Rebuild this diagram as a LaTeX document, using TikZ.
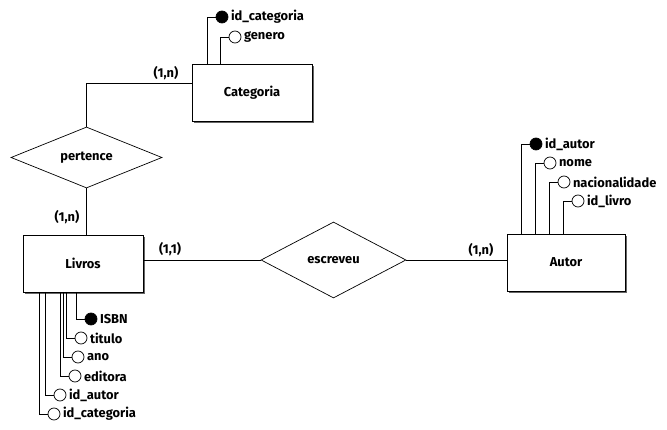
\documentclass[tikz,border=0pt]{standalone}
\usepackage{fontspec}
\setmainfont{Fira Sans}
\usepackage{tikz}
\usetikzlibrary{shapes.geometric, shadows, calc, positioning}
\tikzset{
    entity/.style={rectangle, draw, fill=white, inner sep=0pt,
        drop shadow={shadow xshift=1.3pt, shadow yshift=-1.3pt, fill=black!60, opacity=1},
        font=\bfseries\fontsize{11}{13}\selectfont},
    relation/.style={diamond, draw, fill=white, inner sep=0pt, aspect=2.4,
        font=\bfseries\fontsize{11}{13}\selectfont},
    attrib/.style={circle, draw, inner sep=0pt, minimum size=0.36cm},
    attrlabel/.style={anchor=west, inner sep=1pt, font=\bfseries\fontsize{11}{13}\selectfont},
    card/.style={inner sep=1pt, font=\bfseries\fontsize{11}{13}\selectfont}
}

\begin{document}
\begin{tikzpicture}[x=0.03cm, y=-0.03cm, line width=0.6pt]
    \useasboundingbox (0,0) rectangle (667,430);

    % entities and relations
    \node[entity, minimum width=3.6cm, minimum height=1.71cm] (categoria) at (252,92.5) {Categoria};
    \node[entity, minimum width=3.6cm, minimum height=1.71cm] (livros) at (83,263.5) {Livros};
    \node[entity, minimum width=3.54cm, minimum height=1.71cm] (autor) at (566,262.5) {Autor};
    \node[relation, minimum width=4.53cm, minimum height=1.83cm] (pertence) at (86.5,157.5) {pertence};
    \node[relation, minimum width=4.35cm, minimum height=2.28cm] (escreveu) at (333.5,260) {escreveu};

    % connections
    \draw ($(categoria.west)+(0,-9.5)$) -| (pertence.north);
    \draw (pertence.south) -- (pertence.south |- livros.north);
    \draw (livros.east |- escreveu.west) -- (escreveu.west);
    \draw (escreveu.east) -- (autor.west |- escreveu.east);

    % cardinalities
    \node[card] (c1) at (166,73) {(1,n)};
    \node[card] (c2) at (67,217) {(1,n)};
    \node[card] (c3) at (170,249) {(1,1)};
    \node[card] (c4) at (481,250) {(1,n)};

    % attributes of Livros
    \foreach \n/\sx/\cy/\f/\t in {isbn/76/319/black/ISBN, titulo/66/338/white/titulo,
            ano/63/357/white/ano, editora/60/376/white/editora,
            lautor/45/395/white/id\_autor, lcategoria/39/414/white/id\_categoria}{
        \coordinate (\n-s) at (\sx,292);
        \node[attrib, fill=\f] (\n) at (\sx+15,\cy) {};
        \node[attrlabel, right=1pt of \n] (\n-t) {\t};
        \draw (\n-s) |- (\n.west);
    }

    % attributes of Categoria
    \foreach \n/\sx/\cy/\f/\t in {idcategoria/207/17/black/id\_categoria, genero/220/37/white/genero}{
        \coordinate (\n-s) at (\sx,64);
        \node[attrib, fill=\f] (\n) at (\sx+15,\cy) {};
        \node[attrlabel, right=1pt of \n] (\n-t) {\t};
        \draw (\n-s) |- (\n.west);
    }

    % attributes of Autor
    \foreach \n/\sx/\cy/\f/\t in {idautor/521/144/black/id\_autor, nome/535/163/white/nome,
            nacionalidade/549/182/white/nacionalidade, idlivro/563/201/white/id\_livro}{
        \coordinate (\n-s) at (\sx,234);
        \node[attrib, fill=\f] (\n) at (\sx+15,\cy) {};
        \node[attrlabel, right=1pt of \n] (\n-t) {\t};
        \draw (\n-s) |- (\n.west);
    }
\end{tikzpicture}
\end{document}
